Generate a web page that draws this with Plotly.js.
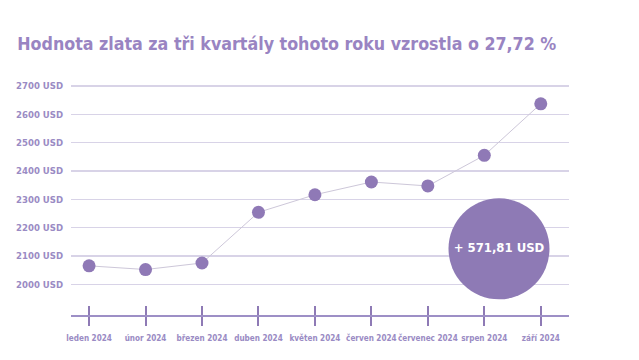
<!DOCTYPE html>
<html>
<head>
<meta charset="utf-8">
<script src="https://cdn.plot.ly/plotly-3.0.1.min.js"></script>
<style>html,body{margin:0;padding:0;background:#fff;}#chart{width:639px;height:360px;}</style>
</head>
<body>
<div id="chart"></div>
<script>
// Data
const months = ["leden 2024","únor 2024","březen 2024","duben 2024","květen 2024","červen 2024","červenec 2024","srpen 2024","září 2024"];
const prices = [2065, 2052, 2075, 2254, 2316, 2361, 2347, 2455, 2637];
const yTicks = [2000, 2100, 2200, 2300, 2400, 2500, 2600, 2700];
const yTickLabels = ["2000 USD","2100 USD","2200 USD","2300 USD","2400 USD","2500 USD","2600 USD","2700 USD"];
const titleText = "Hodnota zlata za tři kvartály tohoto roku vzrostla o 27,72 %";
const changeLabel = "+ 571,81 USD";

const FONT = '"DejaVu Sans Condensed", "Liberation Sans Narrow", "Roboto", sans-serif';
const PURPLE = '#8f79b6';
const LABEL = '#9a8bc4';

const idx = months.map((_, i) => i);

const traces = [
  {
    x: idx, y: prices, type: 'scatter', mode: 'lines+markers',
    line: {color: '#cdc7d9', width: 1},
    marker: {color: PURPLE, size: 13},
    hoverinfo: 'skip', showlegend: false
  },
  {
    // highlight bubble with change value
    x: [7.26], y: [2125], type: 'scatter', mode: 'markers+text',
    marker: {color: '#8e7ab5', size: 101},
    text: [changeLabel], textposition: 'middle center',
    textfont: {color: '#ffffff', size: 13, family: FONT, weight: 'bold'},
    hoverinfo: 'skip', showlegend: false
  },
  {
    // overlay axis for upward ticks
    x: idx, y: prices, xaxis: 'x2', type: 'scatter', mode: 'none',
    hoverinfo: 'skip', showlegend: false
  }
];

const layout = {
  width: 639, height: 360,
  margin: {l: 71, r: 70, t: 80, b: 45},
  paper_bgcolor: '#ffffff', plot_bgcolor: '#ffffff',
  font: {family: FONT, color: LABEL},
  title: {
    text: titleText, x: 0.027, xanchor: 'left', y: 0.878, yanchor: 'middle',
    font: {family: FONT, size: 17.7, color: '#9984c2', weight: 'bold'}
  },
  xaxis: {
    range: [-0.32, 8.5],
    tickvals: idx, ticktext: months, tickangle: 0,
    showgrid: false, zeroline: false,
    showline: true, linecolor: '#9d8fc6', linewidth: 2,
    ticks: 'outside', ticklen: 9, tickwidth: 2, tickcolor: '#8e7ab5',
    ticklabelstandoff: 5,
    tickfont: {size: 8.1, color: LABEL, family: FONT, weight: 'bold'}
  },
  xaxis2: {
    overlaying: 'x', matches: 'x', anchor: 'free', side: 'top',
    position: 0, range: [-0.32, 8.5],
    tickvals: idx, showticklabels: false,
    showgrid: false, zeroline: false, showline: false,
    ticks: 'outside', ticklen: 9, tickwidth: 2, tickcolor: '#8e7ab5'
  },
  yaxis: {
    range: [1891.5, 2721],
    tickvals: yTicks, ticktext: yTickLabels,
    showgrid: true, gridcolor: '#d8d3e7', gridwidth: 1.5,
    zeroline: false, showline: false, ticks: '',
    ticklabelstandoff: 7,
    tickfont: {size: 9.5, color: LABEL, family: FONT, weight: 'bold'}
  }
};

Plotly.newPlot('chart', traces, layout, {displayModeBar: false, staticPlot: true});
</script>
</body>
</html>
